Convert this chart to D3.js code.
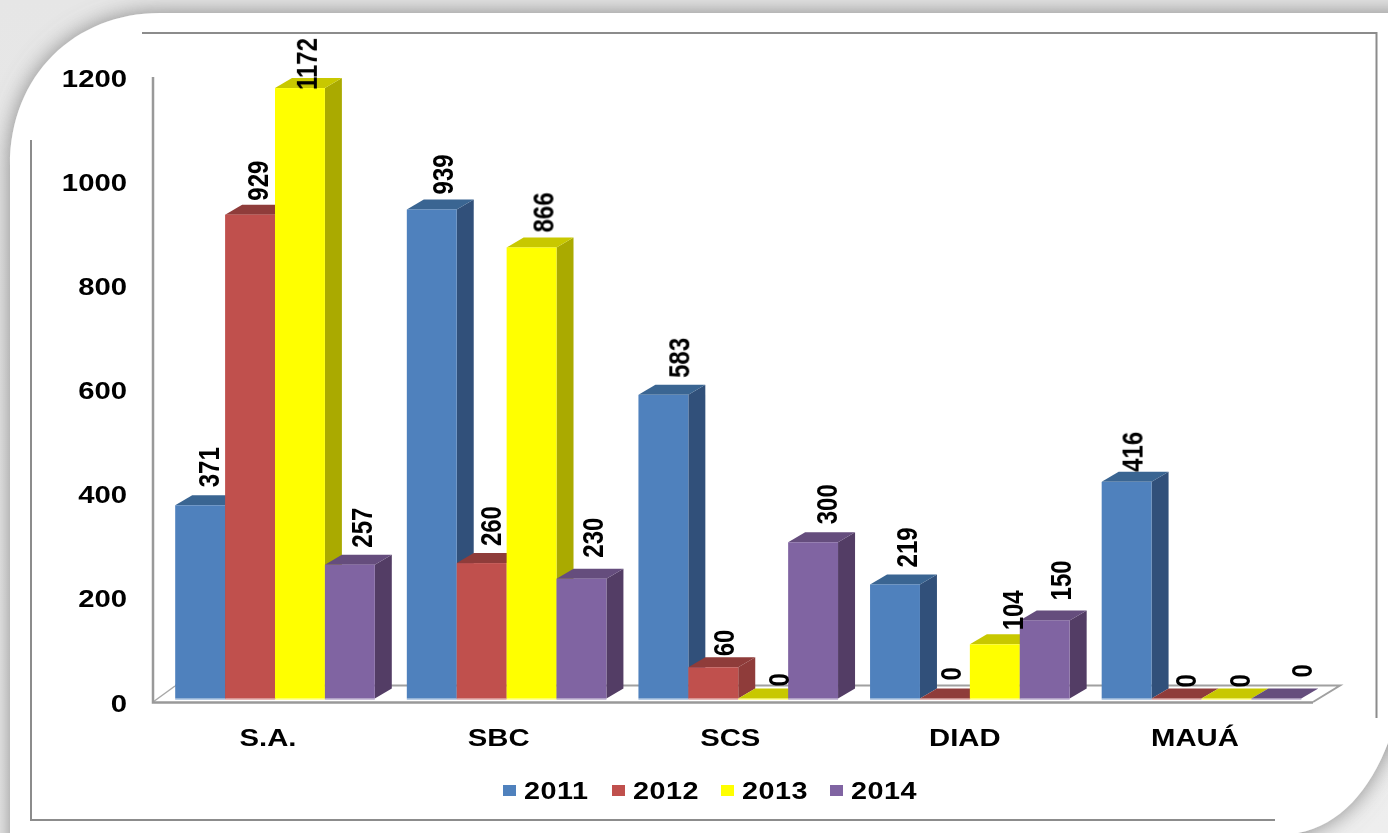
<!DOCTYPE html>
<html><head><meta charset="utf-8">
<script src="https://cdn.jsdelivr.net/npm/d3@7"></script>
<style>
html,body{margin:0;padding:0;background:#fff;overflow:hidden}
svg{display:block}
text{font-family:"Liberation Sans",Arial,sans-serif;font-weight:700;font-size:24px;fill:#000}
</style></head><body>
<svg id="c" width="1388" height="833"></svg>
<script>
const categories = ["S.A.", "SBC", "SCS", "DIAD", "MAUÁ"];
const years = ["2011", "2012", "2013", "2014"];
const values2011 = [371, 939, 583, 219, 416];
const values2012 = [929, 260, 60, 0, 0];
const values2013 = [1172, 866, 0, 104, 0];
const values2014 = [257, 230, 300, 150, 0];
const yTicks = [0, 200, 400, 600, 800, 1000, 1200];
const seriesValues = [values2011, values2012, values2013, values2014];
const frontColors = ["#4F81BD", "#C0504D", "#FFFF00", "#8064A2"];
const topColors = ["#3A6592", "#8F3C3A", "#C8C800", "#654D7D"];
const sideColors = ["#31507A", "#8F3C3A", "#AAAA00", "#533D65"];
// hand-placed data label nudges [dx, dy], per category then per series
const labelNudges = [
  [[8,-18],[7,-14],[6,2],[12,-17]],
  [[11,-15],[9,-17],[11,-15],[11,-21]],
  [[15,-17],[10,-11],[15,-12],[13,-18]],
  [[11,-17],[6,-18],[18,-14],[16,-20]],
  [[5,-10],[9,-11],[13,-11],[25,-21]]
];
const categoryLabelNudges = [0, -1, -1, 2, 0.5];

const svg = d3.select("#c");
const W = 1388, H = 833, sx = 1.22, depthX = 17, depthY = 10;

const defs = svg.append("defs");
const bgGrad = defs.append("linearGradient").attr("id","bg").attr("x1",0).attr("y1",0).attr("x2",0).attr("y2",1);
bgGrad.append("stop").attr("offset",0).attr("stop-color","#e6e6e6");
bgGrad.append("stop").attr("offset",1).attr("stop-color","#eeeeee");
const f = defs.append("filter").attr("id","sh").attr("x","-5%").attr("y","-5%").attr("width","110%").attr("height","110%");
f.append("feDropShadow").attr("dx",0).attr("dy",0).attr("stdDeviation",11).attr("flood-color","#6e6e6e").attr("flood-opacity",0.8);
const soft = defs.append("filter").attr("id","soft").attr("x","-5%").attr("y","-5%").attr("width","110%").attr("height","110%");
soft.append("feGaussianBlur").attr("stdDeviation",0.4);

svg.append("rect").attr("width",W).attr("height",H).attr("fill","url(#bg)");
const panel = d3.path();
panel.moveTo(10,833); panel.lineTo(10,165);
panel.bezierCurveTo(10,75,75,13,160,13);
panel.lineTo(1420,13); panel.lineTo(1420,743); panel.lineTo(1388,743);
panel.bezierCurveTo(1370,790,1340,825,1298,833);
panel.lineTo(1298,860); panel.lineTo(10,860); panel.closePath();
svg.append("path").attr("d",panel.toString()).attr("fill","#fff").attr("filter","url(#sh)");

const frame = [
  [[142,33],[1376.5,33],[1376.5,718]],
  [[31,140],[31,820],[1275,820]]
];
const line = d3.line();
svg.selectAll("path.frame").data(frame).join("path").attr("class","frame")
  .attr("d",line).attr("fill","none").attr("stroke","#8c8c8c").attr("stroke-width",2);

const y = d3.scaleLinear().domain([0,1200]).range([698.5,73.5]);
const x0 = d3.scaleBand().domain(categories).range([159.2,1317.3]);
const x1 = d3.scaleBand().domain(years).range([16,215.6]);

svg.append("path").attr("d",line([[153,702],[175,686]])).attr("stroke","#a8a8a8").attr("stroke-width",1.5).attr("fill","none");
svg.append("path").attr("d",line([[175,685.5],[1340,685.5],[1313,702]])).attr("stroke","#a0a0a0").attr("stroke-width",2).attr("fill","none");
svg.append("path").attr("d",line([[153,77],[153,702.5],[1313,702.5]])).attr("stroke","#999").attr("stroke-width",2.5).attr("fill","none");

const bars = [];
categories.forEach((c,ci)=>years.forEach((yr,si)=>bars.push({c,ci,yr,si,v:seriesValues[si][ci]})));
const g = svg.append("g");
const bar = g.selectAll("g.bar").data(bars).join("g").attr("class","bar");
const left = d=>x0(d.c)+x1(d.yr), right = d=>left(d)+x1.bandwidth();
bar.append("path").attr("fill",d=>sideColors[d.si]).attr("d",d=>line([
  [right(d),y(d.v)],[right(d)+depthX,y(d.v)-depthY],[right(d)+depthX,y(0)-depthY],[right(d),y(0)]])+"Z");
bar.append("path").attr("fill",d=>topColors[d.si]).attr("d",d=>line([
  [left(d),y(d.v)],[right(d),y(d.v)],[right(d)+depthX,y(d.v)-depthY],[left(d)+depthX,y(d.v)-depthY]])+"Z");
bar.append("rect").attr("fill",d=>frontColors[d.si])
  .attr("x",left).attr("y",d=>y(d.v)).attr("width",x1.bandwidth()).attr("height",d=>y(0)-y(d.v));
// pale strip along the foot of each bar
bar.append("rect").attr("fill",d=>frontColors[d.si]).attr("opacity",0.4)
  .attr("x",left).attr("y",y(0)).attr("width",x1.bandwidth()).attr("height",1.5);

const labels = svg.append("g").attr("filter","url(#soft)");
labels.selectAll("text.val").data(bars).join("text").attr("class","val")
  .attr("dy","0.36em")
  .attr("transform",d=>{
    const n = labelNudges[d.ci][d.si];
    return `translate(${left(d)+x1.bandwidth()/2+n[0]},${y(d.v)+n[1]}) scale(${sx},1) rotate(-90)`;
  })
  .text(d=>d.v);

const yAxis = d3.axisLeft(y).tickValues(yTicks).tickSize(0).tickFormat(d3.format("d"));
const ya = labels.append("g").attr("transform","translate(153,4)").call(yAxis);
ya.attr("font-size",null).attr("font-family",null);
ya.select(".domain").remove();
ya.selectAll("text").attr("x",0).attr("dy","0.36em").attr("text-anchor","end")
  .attr("transform",`translate(-26,0) scale(${sx},1)`);

labels.append("g").selectAll("text").data(categories).join("text")
  .attr("text-anchor","middle")
  .attr("transform",(d,i)=>`translate(${x0(d)+x0.bandwidth()/2-7+categoryLabelNudges[i]},746) scale(${sx},1)`)
  .text(d=>d);

const legendX = d3.scalePoint().domain(years).range([503,830]);
const lg = svg.selectAll("g.lg").data(years).join("g").attr("class","lg")
  .attr("transform",d=>`translate(${legendX(d)},0)`);
lg.append("rect").attr("y",785).attr("width",13).attr("height",11).attr("fill",(d,i)=>frontColors[i]);
lg.append("text").attr("filter","url(#soft)").attr("transform",`translate(21,799) scale(1.2,1)`).style("letter-spacing","0.4px").text(d=>d);
</script>
</body></html>
